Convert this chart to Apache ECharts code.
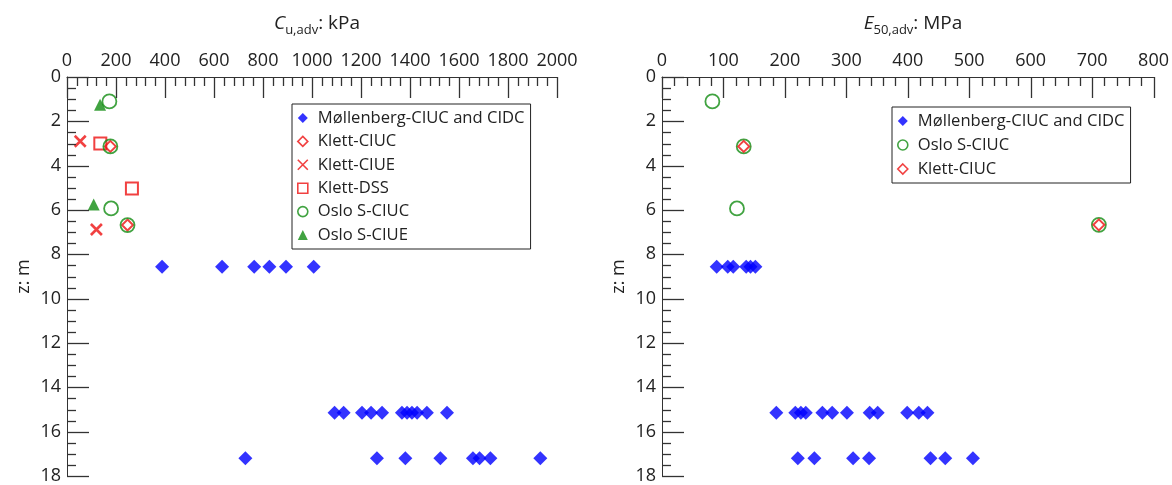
<!DOCTYPE html>
<html>
<head>
<meta charset="utf-8">
<script src="https://cdn.jsdelivr.net/npm/echarts@6/dist/echarts.min.js"></script>
<style>
  html, body { margin: 0; padding: 0; background: #fff; }
  #chart { width: 1172px; height: 485px; }
</style>
</head>
<body>
<div id="chart"></div>
<script>
// Depth rows of the Møllenberg triaxial tests (m)
const molRowDepths = [8.56, 15.15, 17.2];
// Undrained shear strength Cu (kPa) for each depth row
const molCuRows = [
  [388, 633, 764, 826, 894, 1007],
  [1092, 1129, 1204, 1241, 1286, 1367, 1388, 1408, 1429, 1469, 1551],
  [728, 1265, 1381, 1524, 1657, 1684, 1728, 1932]
];
// Secant modulus E50 (MPa) for each depth row
const molE50Rows = [
  [89, 107, 116, 137, 144, 152],
  [186, 217, 226, 234, 261, 277, 301, 338, 351, 399, 418, 432],
  [221, 248, 311, 337, 437, 461, 506]
];
// Klett and Oslo S tests: [value, depth m]
const klettCiucCu  = [[177, 3.13], [247, 6.68]];
const klettCiueCu  = [[54, 2.9], [120, 6.88]];
const klettDssCu   = [[136, 3.0], [265, 5.03]];
const osloCiucCu   = [[173, 1.1], [177, 3.13], [180, 5.93], [247, 6.68]];
const osloCiueCu   = [[135, 1.25], [109, 5.75]];
const osloCiucE50  = [[82, 1.1], [133, 3.13], [122, 5.93], [711, 6.67]];
const klettCiucE50 = [[133, 3.13], [711, 6.67]];

// Axis ranges and tick subdivisions
const cuMax = 2000, cuStep = 200, cuMinorPerMajor = 5;
const e50Max = 800, e50Step = 100, e50MinorPerMajor = 5;
const zMax = 18, zStep = 2, zMinorPerMajor = 4;

const toPairs = (rows) => rows.flatMap((vals, i) => vals.map(v => [v, molRowDepths[i]]));

// Tick values along an axis: [value, isMajor]
function tickValues(max, step, per) {
  const out = [];
  const n = Math.round(max / step) * per;
  for (let i = 0; i <= n; i++) out.push([i * step / per, i % per === 0]);
  return out;
}

const FONT = 'Open Sans';
const BLUE = '#0000ff', RED = '#ee1111', GREEN = '#128c12';
const CROSS = 'path://M0,0L10,10M10,0L0,10';
const axisColor = '#333';
const MAJOR_LEN = 21, MINOR_LEN = 9;

const styles = {
  'Møllenberg-CIUC and CIDC': { symbol: 'diamond', symbolSize: 14, itemStyle: { color: BLUE, borderWidth: 0 } },
  'Klett-CIUC': { symbol: 'diamond', symbolSize: 11, itemStyle: { color: '#fff', borderColor: RED, borderWidth: 2 } },
  'Klett-CIUE': { symbol: CROSS, symbolSize: 11, itemStyle: { color: RED, borderColor: RED, borderWidth: 2.6 } },
  'Klett-DSS': { symbol: 'rect', symbolSize: 12, itemStyle: { color: 'rgba(0,0,0,0)', borderColor: RED, borderWidth: 2 } },
  'Oslo S-CIUC': { symbol: 'circle', symbolSize: 14, itemStyle: { color: 'rgba(0,0,0,0)', borderColor: GREEN, borderWidth: 1.8 } },
  'Oslo S-CIUE': { symbol: 'triangle', symbolSize: 12, itemStyle: { color: GREEN, borderWidth: 0 } }
};

function scatter(name, data, idx) {
  const s = styles[name];
  return {
    type: 'scatter', name, data,
    xAxisIndex: idx, yAxisIndex: idx,
    symbol: s.symbol, symbolSize: s.symbolSize,
    itemStyle: s.itemStyle,
    emphasis: { disabled: true },
    silent: true
  };
}

function legendItem(name) {
  const s = styles[name];
  const st = Object.assign({}, s.itemStyle);
  st.borderWidth = Math.min(st.borderWidth || 0, 1.6);
  return { name, icon: s.symbol, itemStyle: st };
}

const labelStyle = { color: '#222', fontFamily: FONT, fontSize: 18, formatter: (v) => String(v) };

function xAxis(grid, max, step) {
  return {
    type: 'value', gridIndex: grid, position: 'top',
    min: 0, max, interval: step,
    axisLine: { show: true, onZero: false, lineStyle: { color: axisColor, width: 1 } },
    axisTick: { show: false },
    axisLabel: Object.assign({ margin: 7 }, labelStyle),
    splitLine: { show: false }
  };
}

function yAxis(grid) {
  return {
    type: 'value', gridIndex: grid, inverse: true, position: 'left',
    min: 0, max: zMax, interval: zStep,
    name: 'z: m', nameLocation: 'middle', nameGap: 34,
    nameTextStyle: { color: '#222', fontFamily: FONT, fontSize: 18 },
    axisLine: { show: true, onZero: false, lineStyle: { color: axisColor, width: 1 } },
    axisTick: { show: false },
    axisLabel: Object.assign({ margin: 6 }, labelStyle),
    splitLine: { show: false }
  };
}

const titleRich = {
  i: { fontFamily: FONT, fontSize: 19, fontStyle: 'italic', fontWeight: 'normal', color: '#222', lineHeight: 26 },
  s: { fontFamily: FONT, fontSize: 13, fontWeight: 'normal', color: '#222', lineHeight: 14, padding: [12, 0, 0, 0] },
  n: { fontFamily: FONT, fontSize: 19, fontWeight: 'normal', color: '#222', lineHeight: 26 }
};

const legendBase = {
  orient: 'vertical', selectedMode: false,
  itemWidth: 10, itemHeight: 10, itemGap: 3.4,
  padding: [4, 6, 4, 5],
  borderColor: '#222', borderWidth: 1, backgroundColor: '#fff',
  textStyle: { color: '#222', fontFamily: FONT, fontSize: 16.6, lineHeight: 20, padding: [0, 0, 0, 5] }
};

const leftNames = ['Møllenberg-CIUC and CIDC', 'Klett-CIUC', 'Klett-CIUE', 'Klett-DSS', 'Oslo S-CIUC', 'Oslo S-CIUE'];
const rightNames = ['Møllenberg-CIUC and CIDC', 'Oslo S-CIUC', 'Klett-CIUC'];

const option = {
  animation: false,
  title: [
    { text: '{i|C}{s|u,adv}{n|: kPa}', left: 312, top: 6, textAlign: 'center', textStyle: { fontWeight: 'normal', rich: titleRich } },
    { text: '{i|E}{s|50,adv}{n|: MPa}', left: 908, top: 6, textAlign: 'center', textStyle: { fontWeight: 'normal', rich: titleRich } }
  ],
  grid: [
    { left: 67, right: 615, top: 77, bottom: 8 },
    { left: 662, right: 17, top: 77, bottom: 8 }
  ],
  xAxis: [xAxis(0, cuMax, cuStep), xAxis(1, e50Max, e50Step)],
  yAxis: [yAxis(0), yAxis(1)],
  legend: [
    Object.assign({}, legendBase, { left: 292, top: 104, data: leftNames.map(legendItem) }),
    Object.assign({}, legendBase, { left: 892, top: 107, itemGap: 4, data: rightNames.map(legendItem) })
  ],
  series: [
    scatter('Møllenberg-CIUC and CIDC', toPairs(molCuRows), 0),
    scatter('Klett-CIUC', klettCiucCu, 0),
    scatter('Klett-CIUE', klettCiueCu, 0),
    scatter('Klett-DSS', klettDssCu, 0),
    scatter('Oslo S-CIUC', osloCiucCu, 0),
    scatter('Oslo S-CIUE', osloCiueCu, 0),
    scatter('Møllenberg-CIUC and CIDC', toPairs(molE50Rows), 1),
    scatter('Oslo S-CIUC', osloCiucE50, 1),
    scatter('Klett-CIUC', klettCiucE50, 1)
  ]
};

const chart = echarts.init(document.getElementById('chart'), null, { renderer: 'canvas' });
chart.setOption(option);

// Inward-pointing tick marks on their own layer, positioned through each grid's scales
function tickLines(gridIndex, xMax, xStep, xPer) {
  const els = [];
  const seg = (x1, y1, x2, y2) => els.push({
    type: 'line', zlevel: 1, z: 100,
    shape: { x1, y1, x2, y2 },
    style: { stroke: axisColor, lineWidth: 1.3 }
  });
  tickValues(xMax, xStep, xPer).forEach(([v, major]) => {
    const p = chart.convertToPixel({ gridIndex }, [v, 0]);
    const x = Math.round(p[0]) + 0.5, y = Math.round(p[1]);
    seg(x, y, x, y + (major ? MAJOR_LEN : MINOR_LEN));
  });
  tickValues(zMax, zStep, zMinorPerMajor).forEach(([v, major]) => {
    const p = chart.convertToPixel({ gridIndex }, [0, v]);
    const x = Math.round(p[0]), y = Math.round(p[1]) + 0.5;
    seg(x, y, x + (major ? MAJOR_LEN + 1 : MINOR_LEN), y);
  });
  return els;
}

chart.setOption({
  graphic: { elements: [
    ...tickLines(0, cuMax, cuStep, cuMinorPerMajor),
    ...tickLines(1, e50Max, e50Step, e50MinorPerMajor)
  ] }
});
</script>
</body>
</html>
